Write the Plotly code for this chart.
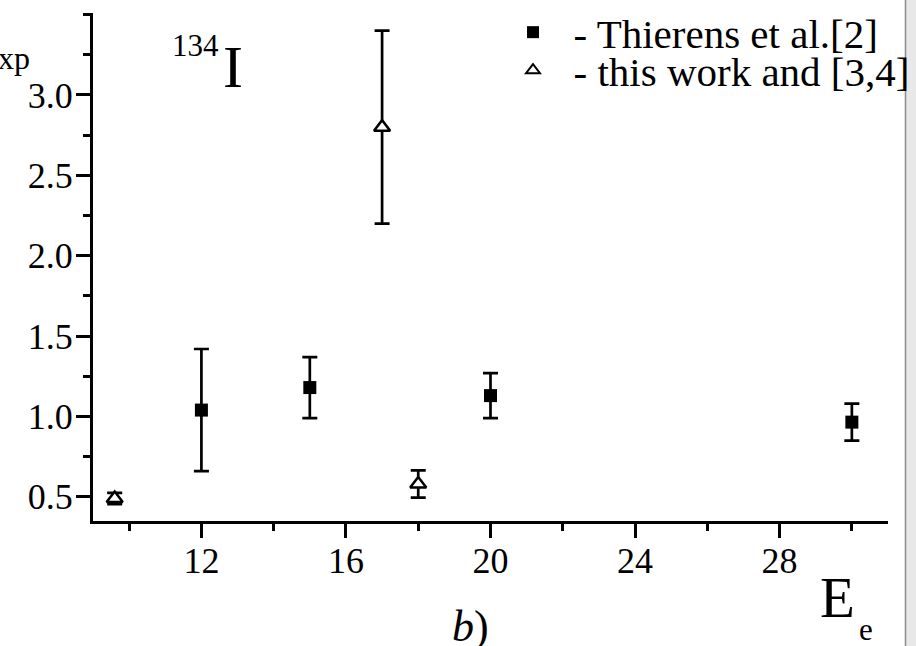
import plotly.graph_objects as go

# ---- data ----
thierens_x = [12, 15, 20, 30]
thierens_y = [1.04, 1.18, 1.13, 0.965]
thierens_err = [0.38, 0.19, 0.14, 0.115]

this_x = [9.6, 17, 18]
this_y = [0.49, 2.80, 0.58]
this_err = [0.035, 0.60, 0.085]

x_range = [9, 31]
y_range = [0.35, 3.51]
x_ticks = [12, 16, 20, 24, 28]
y_ticks = [0.5, 1.0, 1.5, 2.0, 2.5, 3.0]

W, H = 916, 646
L, R, T, B = 93, 28, 13, 125
PW, PH = W - L - R, H - T - B


def px(xp):
    return (xp - L) / PW


def py(yp):
    return (H - B - yp) / PH


FONT = "Liberation Serif, Times New Roman, serif"
NB = "\u00a0"

fig = go.Figure()
fig.add_trace(go.Scatter(
    x=thierens_x, y=thierens_y, mode="markers",
    name=NB * 2 + "- Thierens et al.[2]", legend="legend",
    marker=dict(symbol="square", size=13, color="black"),
    error_y=dict(type="data", array=thierens_err, visible=True,
                 color="black", thickness=2.7, width=7.5),
))
fig.add_trace(go.Scatter(
    x=this_x, y=this_y, mode="markers",
    name=NB * 2 + "- this work and [3,4]", legend="legend2",
    marker=dict(symbol="triangle-up", size=14, color="white",
                line=dict(color="black", width=2.5)),
    error_y=dict(type="data", array=this_err, visible=True,
                 color="black", thickness=2.7, width=7.5),
))

axis_common = dict(
    showgrid=False, zeroline=False, showline=True, linecolor="black",
    linewidth=3, ticks="outside", ticklen=14, tickwidth=2.5,
    tickcolor="black", mirror=False,
    tickfont=dict(family=FONT, size=36, color="black"),
)
fig.update_xaxes(range=x_range, tickvals=x_ticks, ticklabelstandoff=-8,
                 minor=dict(dtick=2, tick0=0, ticks="outside", ticklen=7,
                            tickwidth=2.5, tickcolor="black"),
                 **axis_common)
fig.update_yaxes(range=y_range, tickvals=y_ticks, tickformat=".1f",
                 ticklabelstandoff=-4,
                 minor=dict(dtick=0.25, tick0=0, ticks="outside", ticklen=7,
                            tickwidth=2.5, tickcolor="black"),
                 **axis_common)

ann = [
    dict(text="xp", x=px(32), y=py(58), xanchor="right", yanchor="middle",
         font=dict(size=32)),
    dict(text="134", x=px(221), y=py(45), xanchor="right", yanchor="middle",
         font=dict(size=31)),
    dict(text="I", x=px(221), y=py(67), xanchor="left", yanchor="middle",
         font=dict(size=60)),
    dict(text="<i>b</i>)", x=px(470), y=py(626), xanchor="center",
         yanchor="middle", font=dict(size=44)),
    dict(text="E", x=px(857), y=py(597), xanchor="right", yanchor="middle",
         font=dict(size=57)),
    dict(text="e", x=px(857), y=py(629), xanchor="left", yanchor="middle",
         font=dict(size=31)),
]
for a in ann:
    a.update(xref="paper", yref="paper", showarrow=False)
    a["font"].update(family=FONT, color="black")

leg_common = dict(x=px(513), xanchor="left", yanchor="top",
                  bgcolor="rgba(0,0,0,0)", borderwidth=0,
                  font=dict(family=FONT, size=41, color="black"),
                  itemsizing="constant")

fig.update_layout(
    width=W, height=H,
    margin=dict(l=L, r=R, t=T, b=B, pad=0, autoexpand=False),
    plot_bgcolor="white", paper_bgcolor="white",
    annotations=ann,
    showlegend=True,
    legend=dict(y=py(-1), **leg_common),
    legend2=dict(y=py(37), **leg_common),
    shapes=[
        dict(type="rect", xref="paper", yref="paper",
             x0=px(905), x1=px(917), y0=py(H + 5), y1=py(-5),
             fillcolor="#e8e8e8", line=dict(width=0), layer="above"),
        dict(type="line", xref="paper", yref="paper",
             x0=px(905.5), x1=px(905.5), y0=py(H + 5), y1=py(-5),
             line=dict(color="#8a8a8a", width=1.5), layer="above"),
    ],
)

fig.write_html("out.html")
